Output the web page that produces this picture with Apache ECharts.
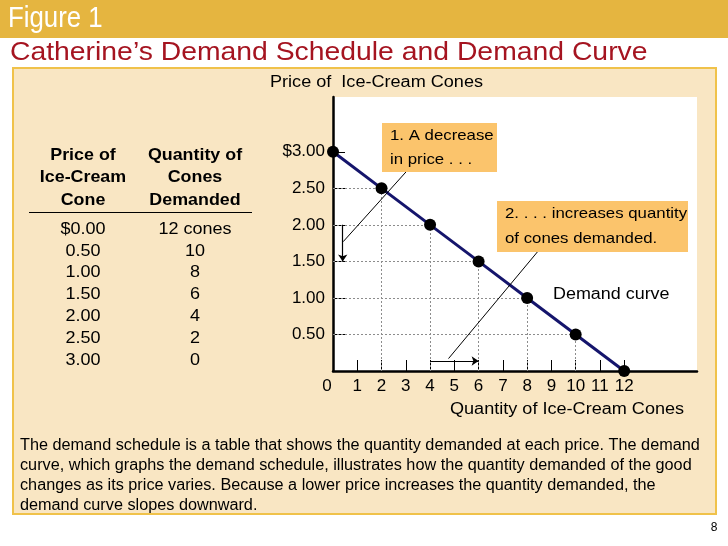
<!DOCTYPE html>
<html>
<head>
<meta charset="utf-8">
<script src="https://cdn.jsdelivr.net/npm/echarts@6/dist/echarts.min.js"></script>
<style>
  html, body { margin:0; padding:0; background:#ffffff; }
  #bar { position:absolute; left:0; top:0; width:728px; height:38px; background:#e5b540; }
  #panel { position:absolute; left:12px; top:67px; width:701px; height:444px; background:#f9e6c3; border:2px solid #f0c24a; }
  #main { position:absolute; left:0; top:0; width:728px; height:546px; }
</style>
</head>
<body>
<div id="bar"></div>
<div id="panel"></div>
<div id="main"></div>
<script>
// ---- data ----
const schedulePrices = [0.00, 0.50, 1.00, 1.50, 2.00, 2.50, 3.00];
const scheduleQuantities = [12, 10, 8, 6, 4, 2, 0];
const priceTicks = [0.5, 1.0, 1.5, 2.0, 2.5, 3.0];
const priceTickLabels = ['0.50', '1.00', '1.50', '2.00', '2.50', '$3.00'];
const qtyTicks = [0, 1, 2, 3, 4, 5, 6, 7, 8, 9, 10, 11, 12];
const qtyTickLabels = ['0', '1', '2', '3', '4', '5', '6', '7', '8', '9', '10', '11', '12'];
const priceHeader = ['Price of', 'Ice-Cream', 'Cone'];
const qtyHeader = ['Quantity of', 'Cones', 'Demanded'];
const captionLines = [
  'The demand schedule is a table that shows the quantity demanded at each price. The demand',
  'curve, which graphs the demand schedule, illustrates how the quantity demanded of the good',
  'changes as its price varies. Because a lower price increases the quantity demanded, the',
  'demand curve slopes downward.'
];
// annotation anchors (data units)
const priceArrow = [[0.4, 2.0], [0.4, 1.5]];
const qtyArrow = [[4, 0.137], [6, 0.137]];
const leader1 = [[3.05, 2.74], [0.42, 1.77]];
const leader2 = [[8.45, 1.64], [4.76, 0.17]];

const FONT = '"Liberation Sans", Arial, Helvetica, sans-serif';

// ---- derived ----
const curve = scheduleQuantities.map((q, i) => [q, schedulePrices[i]]).sort((a, b) => a[0] - b[0]);
const guides = [];
curve.forEach(([q, p]) => {
  if (q > 0 && p > 0) {
    guides.push({ coords: [[0, p], [q, p]] });
    guides.push({ coords: [[q, 0], [q, p]] });
  }
});

function txt(x, y, text, size, opts) {
  opts = opts || {};
  return {
    type: 'text', x: x, y: y, z: 20, silent: true,
    scaleX: opts.sx || 1,
    style: {
      text: text, fill: opts.color || '#000',
      font: (opts.bold ? 'bold ' : '') + size + 'px ' + FONT,
      textAlign: opts.align || 'left', textVerticalAlign: 'middle', verticalAlign: 'middle'
    }
  };
}

const graphics = [];
graphics.push(txt(8, 19, 'Figure 1', 30, { color: '#ffffff', sx: 0.86 }));
graphics.push(txt(10, 53, 'Catherine\u2019s Demand Schedule and Demand Curve', 26, { color: '#a51420', sx: 1.09 }));
// table header
priceHeader.forEach((t, i) => graphics.push(txt(83, 155 + i * 22.5, t, 17, { bold: true, align: 'center', sx: 1.05 })));
qtyHeader.forEach((t, i) => graphics.push(txt(195, 155 + i * 22.5, t, 17, { bold: true, align: 'center', sx: 1.05 })));
graphics.push({ type: 'line', z: 20, silent: true, shape: { x1: 29, y1: 212.5, x2: 252, y2: 212.5 }, style: { stroke: '#000', lineWidth: 1.2 } });
schedulePrices.forEach((p, i) => {
  const ps = (i === 0 ? '$' : '') + p.toFixed(2);
  const qs = scheduleQuantities[i] + (i === 0 ? ' cones' : '');
  graphics.push(txt(83, 229 + i * 21.83, ps, 17, { align: 'center', sx: 1.06 }));
  graphics.push(txt(195, 229 + i * 21.83, qs, 17, { align: 'center', sx: 1.06 }));
});
// axis names
graphics.push(txt(270, 83, 'Price of  Ice-Cream Cones', 16, { sx: 1.13 }));
graphics.push(txt(450, 410, 'Quantity of Ice-Cream Cones', 16, { sx: 1.13 }));
// annotation boxes
graphics.push({ type: 'rect', z: 15, silent: true, shape: { x: 382, y: 123, width: 115, height: 49 }, style: { fill: '#fbc46c' } });
graphics.push(txt(390, 136, '1. A decrease', 15, { sx: 1.12 }));
graphics.push(txt(390, 160, 'in price . . .', 15, { sx: 1.12 }));
graphics.push({ type: 'rect', z: 15, silent: true, shape: { x: 497, y: 201, width: 191, height: 51 }, style: { fill: '#fbc46c' } });
graphics.push(txt(505, 214, '2. . . . increases quantity', 15, { sx: 1.12 }));
graphics.push(txt(505, 239, 'of cones demanded.', 15, { sx: 1.12 }));
graphics.push(txt(553, 295, 'Demand curve', 16, { sx: 1.12 }));
// caption
captionLines.forEach((t, i) => graphics.push(txt(20, 446 + i * 20, t, 16, { sx: 1.015 })));
graphics.push(txt(714, 528, '8', 12, { align: 'center' }));

const chart = echarts.init(document.getElementById('main'), null, { renderer: 'canvas' });
chart.setOption({
  animation: false,
  backgroundColor: 'transparent',
  grid: { left: 333, top: 97, width: 364, height: 274, show: true, backgroundColor: '#ffffff', borderWidth: 0, containLabel: false },
  xAxis: {
    type: 'value', min: 0, max: 15, interval: 1,
    axisLine: { show: true, onZero: false, lineStyle: { color: '#000', width: 2.5 } },
    axisTick: { show: true, inside: true, length: 11, lineStyle: { color: '#000', width: 1 }, customValues: qtyTicks.slice(1) },
    axisLabel: {
      show: true, customValues: qtyTicks, margin: 7, color: '#000', fontSize: 17, fontFamily: FONT,
      formatter: function (v) {
        const s = qtyTickLabels[qtyTicks.indexOf(v)];
        return v === 0 ? '{z|' + s + '}' : s;
      },
      rich: { z: { fontSize: 17, fontFamily: FONT, color: '#000', padding: [0, 12, 0, 0] } }
    },
    splitLine: { show: false }
  },
  yAxis: {
    type: 'value', min: 0, max: 3.75, interval: 0.25,
    axisLine: { show: true, onZero: false, lineStyle: { color: '#000', width: 2.5 } },
    axisTick: { show: true, inside: true, length: 12, lineStyle: { color: '#000', width: 1 }, customValues: priceTicks },
    axisLabel: {
      show: true, customValues: priceTicks, margin: 8, color: '#000', fontSize: 17, fontFamily: FONT,
      formatter: function (v) { return priceTickLabels[priceTicks.indexOf(v)]; }
    },
    splitLine: { show: false }
  },
  graphic: graphics,
  series: [
    {
      type: 'lines', coordinateSystem: 'cartesian2d', silent: true, z: 2,
      data: guides, symbol: 'none',
      lineStyle: { color: '#8c8c8c', width: 1, type: [2, 2], opacity: 1 }
    },
    {
      type: 'line', data: curve, z: 5, clip: false, silent: true,
      showAllSymbol: true, symbol: 'circle', symbolSize: 12,
      lineStyle: { color: '#15156c', width: 3 },
      itemStyle: { color: '#000', borderWidth: 0 }
    },
    {
      type: 'lines', coordinateSystem: 'cartesian2d', silent: true, z: 6,
      data: [{ coords: priceArrow }, { coords: qtyArrow }],
      symbol: ['none', 'arrow'], symbolSize: 7,
      lineStyle: { color: '#000', width: 1.2, opacity: 1 }
    },
    {
      type: 'lines', coordinateSystem: 'cartesian2d', silent: true, z: 6,
      data: [{ coords: leader1 }, { coords: leader2 }],
      symbol: 'none',
      lineStyle: { color: '#000', width: 1, opacity: 1 }
    }
  ]
});
</script>
</body>
</html>
